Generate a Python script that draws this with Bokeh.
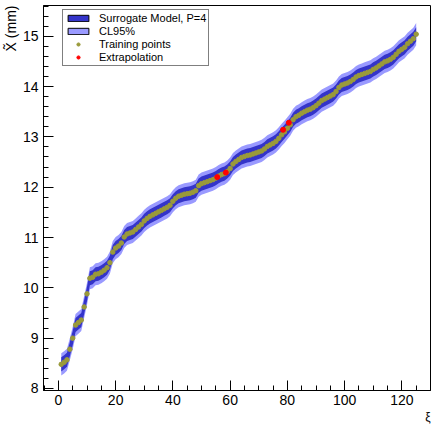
from bokeh.plotting import figure
from bokeh.models import (Legend, LegendItem, SingleIntervalTicker,
                          ColumnDataSource, Range1d, Title)
from bokeh.embed import file_html
from bokeh.resources import INLINE

# ---------------- data ----------------
xi = list(range(1, 126))
x_tilde = [
    8.48, 8.52, 8.57, 8.78, 9.00, 9.26, 9.31, 9.36, 9.62, 9.88,
    10.19, 10.21, 10.27, 10.28, 10.31, 10.35, 10.40, 10.50, 10.71, 10.79,
    10.83, 10.89, 11.01, 11.07, 11.09, 11.11, 11.16, 11.21, 11.26, 11.33,
    11.38, 11.42, 11.45, 11.48, 11.51, 11.54, 11.57, 11.60, 11.64, 11.72,
    11.78, 11.82, 11.84, 11.86, 11.87, 11.88, 11.90, 11.93, 12.03, 12.07,
    12.09, 12.11, 12.13, 12.15, 12.18, 12.22, 12.25, 12.27, 12.31, 12.37,
    12.46, 12.51, 12.55, 12.59, 12.61, 12.63, 12.64, 12.66, 12.68, 12.70,
    12.72, 12.76, 12.81, 12.84, 12.87, 12.91, 12.97, 13.04, 13.10, 13.17,
    13.24, 13.34, 13.40, 13.43, 13.47, 13.50, 13.53, 13.55, 13.58, 13.62,
    13.67, 13.72, 13.75, 13.78, 13.81, 13.84, 13.90, 13.98, 14.03, 14.05,
    14.07, 14.10, 14.14, 14.19, 14.22, 14.24, 14.26, 14.28, 14.30, 14.34,
    14.37, 14.41, 14.45, 14.49, 14.51, 14.54, 14.58, 14.64, 14.70, 14.74,
    14.78, 14.85, 14.90, 14.95, 15.04,
]
model_err = [0.14] * len(xi)
cl95_err = [0.22] * len(xi)
extrap_xi = [55.5, 58.5, 78.5, 80.5]
extrap_val = [12.20, 12.29, 13.14, 13.28]

legend_labels = ["Surrogate Model, P=4", "CL95%", "Training points", "Extrapolation"]

DARK = "#3434c9"
LIGHT = "#9a9aff"
OLIVE = "#9a9a3a"
FONT = "Liberation Sans"

src = ColumnDataSource(dict(
    x=xi, y=x_tilde,
    lo=[v - e for v, e in zip(x_tilde, model_err)],
    hi=[v + e for v, e in zip(x_tilde, model_err)],
    lo95=[v - e for v, e in zip(x_tilde, cl95_err)],
    hi95=[v + e for v, e in zip(x_tilde, cl95_err)],
))

p = figure(width=434, height=426, x_range=Range1d(-5.2, 130.0),
           y_range=Range1d(7.96, 15.61), output_backend="svg",
           toolbar_location=None, min_border_left=42, min_border_right=4,
           min_border_top=5, min_border_bottom=36)
p.background_fill_color = "white"
p.border_fill_color = "white"
p.outline_line_color = "black"
p.outline_line_width = 1
p.xgrid.visible = False
p.ygrid.visible = False

r95 = p.varea(x="x", y1="lo95", y2="hi95", source=src, fill_color=LIGHT)
rm = p.varea(x="x", y1="lo", y2="hi", source=src, fill_color=DARK)
rt = p.scatter(x="x", y="y", source=src, size=4.5, color=OLIVE)
re = p.scatter(x=extrap_xi, y=extrap_val, size=5, color="red")

# legend-only swatches (filled boxes with black outline); NaN => nothing drawn in plot
nan = float("nan")
swatch = ColumnDataSource(dict(l=[nan], r=[nan], b=[nan], t=[nan]))
sw_m = p.quad(left="l", right="r", bottom="b", top="t", source=swatch,
              fill_color=DARK, line_color="black", line_width=1)
sw_c = p.quad(left="l", right="r", bottom="b", top="t", source=swatch,
              fill_color=LIGHT, line_color="black", line_width=1)

legend = Legend(items=[
    LegendItem(label=legend_labels[0], renderers=[sw_m]),
    LegendItem(label=legend_labels[1], renderers=[sw_c]),
    LegendItem(label=legend_labels[2], renderers=[rt]),
    LegendItem(label=legend_labels[3], renderers=[re]),
], location=(19, 324))
legend.label_text_font = FONT
legend.label_text_font_size = "11px"
legend.label_text_color = "black"
legend.label_height = 10
legend.label_standoff = 8
legend.glyph_width = 26
legend.glyph_height = 8
legend.spacing = 1
legend.padding = 2
legend.margin = 0
legend.border_line_color = "black"
legend.border_line_width = 1
legend.background_fill_color = "white"
legend.background_fill_alpha = 1
p.add_layout(legend, "center")

# axes (ROOT style: inward ticks)
for ax in (p.xaxis[0], p.yaxis[0]):
    ax.major_tick_in = 10
    ax.major_tick_out = 0
    ax.minor_tick_in = 5
    ax.minor_tick_out = 0
    ax.axis_line_color = "black"
    ax.major_tick_line_color = "black"
    ax.minor_tick_line_color = "black"
    ax.major_label_text_font = FONT
    ax.major_label_text_font_size = "14px"
    ax.major_label_text_color = "black"
p.xaxis[0].ticker = SingleIntervalTicker(interval=20, num_minor_ticks=4)
p.yaxis[0].ticker = SingleIntervalTicker(interval=1, num_minor_ticks=5)
p.xaxis[0].major_label_standoff = 4
p.yaxis[0].major_label_standoff = 5

# axis titles (ROOT style: at the end of the axis)
p.add_layout(Title(text="X\u0303 (mm)", align="right", text_font=FONT,
                   text_font_size="14px", text_font_style="normal",
                   text_color="black", standoff=1, offset=0), "left")
p.add_layout(Title(text="\u03be", align="right", text_font=FONT,
                   text_font_size="12px", text_font_style="normal",
                   text_color="black", standoff=0, offset=0), "below")

open("out.html", "w").write(file_html(p, INLINE))
